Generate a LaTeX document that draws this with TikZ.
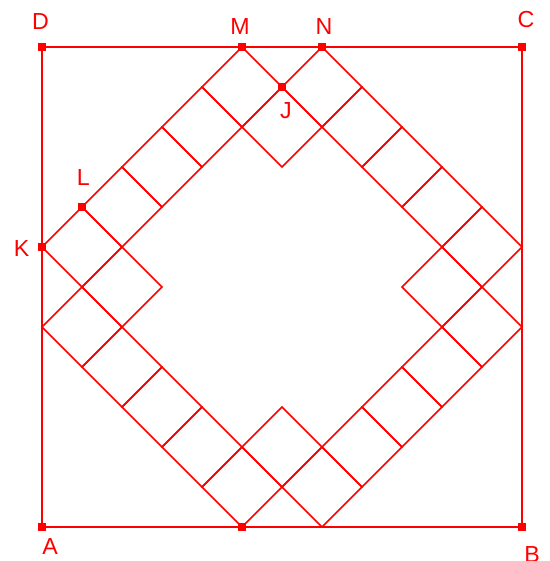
\documentclass[tikz,border=0pt]{standalone}
\usepackage{fontspec}
\setmainfont{Liberation Sans}
\begin{document}
\begin{tikzpicture}[x=1cm,y=1cm,
  sq/.style={draw=red, line width=1.5pt},
  tile/.style={draw=red, line width=1.15pt, line join=miter},
  mk/.style={fill=red, draw=none, minimum size=5pt, inner sep=0pt, rectangle},
  lab/.style={text=red, font=\fontsize{16.5}{16.5}\selectfont, inner sep=0pt}]
\useasboundingbox (-1.05,-0.85) rectangle (12.7,13.175);
% main square
\coordinate (A) at (0,0);
\coordinate (B) at (12,0);
\coordinate (C) at (12,12);
\coordinate (D) at (0,12);
\coordinate (M) at (5,12);
\coordinate (N) at (7,12);
\coordinate (K) at (0,7);
\coordinate (L) at (1,8);
\coordinate (J) at (6,11);
\coordinate (P) at (5,0);
% tiles
\foreach \cx/\cy in {5/11,7/11,6/10, 5/1,7/1,6/2, 1/7,1/5,2/6, 11/7,11/5,10/6,
  4/10,3/9,2/8, 2/4,3/3,4/2, 8/10,9/9,10/8, 8/2,9/3,10/4}
  \draw[tile] (\cx-1,\cy) -- (\cx,\cy+1) -- (\cx+1,\cy) -- (\cx,\cy-1) -- cycle;
\draw[sq] (A) -- (B) -- (C) -- (D) -- cycle;
% markers
\foreach \p in {A,B,C,D,M,N,K,L,J,P}
  \node[mk] (m\p) at (\p) {};
% labels
\node[lab] (lD) at (-0.04,12.63) {D};
\node[lab] (lM) at (4.95,12.5) {M};
\node[lab] (lN) at (7.05,12.5) {N};
\node[lab] (lC) at (12.1,12.68) {C};
\node[lab] (lJ) at (6.1,10.4) {J};
\node[lab] (lK) at (-0.51,6.95) {K};
\node[lab] (lL) at (1.03,8.73) {L};
\node[lab] (lA) at (0.2,-0.5) {A};
\node[lab] (lB) at (12.25,-0.7) {B};
\end{tikzpicture}
\end{document}
